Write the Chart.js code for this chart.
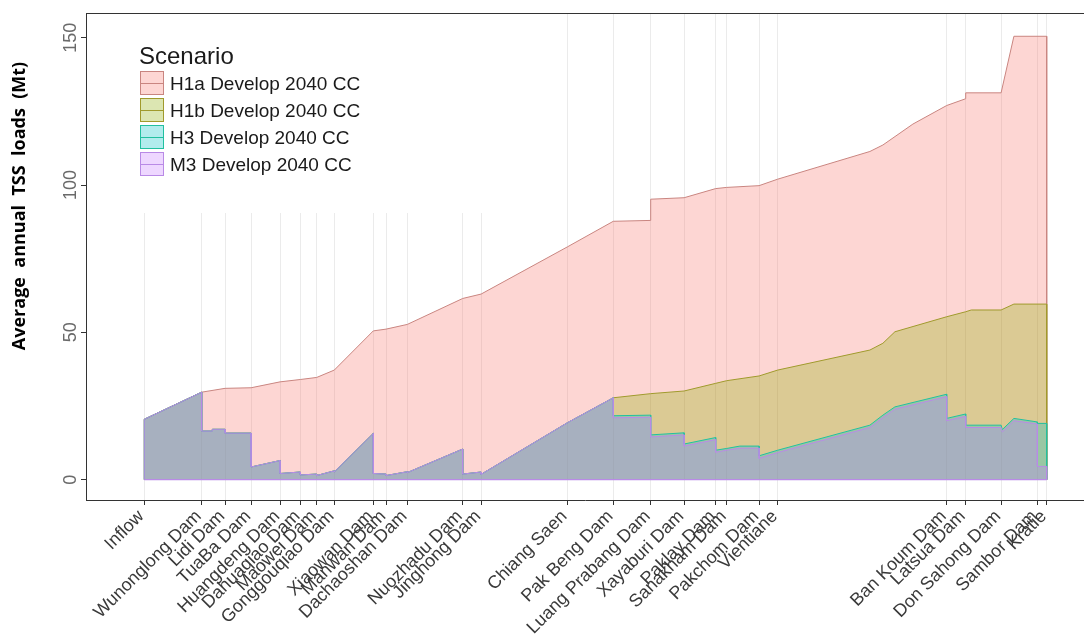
<!DOCTYPE html>
<html>
<head>
<meta charset="utf-8">
<script src="https://cdn.jsdelivr.net/npm/chart.js@4.4.1/dist/chart.umd.min.js"></script>
<style>
  html, body { margin: 0; padding: 0; background: #fff; }
  canvas { display: block; }
</style>
</head>
<body>
<canvas id="chart" width="1084" height="636"></canvas>
<script>
// Stations along the Lancang-Mekong, with distance downstream of the inflow point (km)
const stations = ['Inflow', 'Wunonglong Dam', 'Lidi Dam', 'TuaBa Dam', 'Huangdeng Dam', 'Dahuaqiao Dam',
  'Maowei Dam', 'Gonggouqiao Dam', 'Xiaowan Dam', 'Manwan Dam', 'Dachaoshan Dam', 'Nuozhadu Dam',
  'Jinghong Dam', 'Chiang Saen', 'Pak Beng Dam', 'Luang Prabang Dam', 'Xayaburi Dam', 'Paklay Dam',
  'Sanakham Dam', 'Pakchom Dam', 'Vientiane', 'Ban Koum Dam', 'Latsua Dam', 'Don Sahong Dam',
  'Sambor Dam', 'Kratie'];
const stationKm = [0, 287, 404, 534, 679, 780, 862, 950, 1145, 1209, 1315, 1592, 1684, 2115, 2345,
  2532, 2699, 2857, 2912, 3074, 3167, 4012, 4107, 4284, 4465, 4512];

const yTicks = [0, 50, 100, 150];

const scenarios = ['H1a Develop 2040 CC', 'H1b Develop 2040 CC', 'H3 Develop 2040 CC', 'M3 Develop 2040 CC'];

// Average annual TSS load [km, Mt]; a repeated km is the step at a dam or tributary
const h1aLoad = [[0, 20.5], [287, 29.7], [404, 31], [534, 31.2], [679, 33.2], [780, 34], [862, 34.7],
  [950, 37.2], [1145, 50.5], [1209, 51.1], [1315, 52.7], [1592, 61.5], [1684, 63], [2115, 79],
  [2345, 87.7], [2532, 88], [2532, 95.2], [2699, 95.7], [2857, 98.8], [2912, 99.2], [3074, 99.8],
  [3167, 102], [3628, 111.4], [3693, 113.6], [3843, 120.7], [4012, 127], [4107, 129.3],
  [4107, 131.3], [4284, 131.3], [4348, 150.5], [4512, 150.5]];

// Lancang cascade, common to H1b, H3 and M3 down to Pak Beng
const upperCascade = [[0, 20.5], [287, 29.7], [287, 16.5], [340, 16.5], [340, 17.1], [404, 17.1],
  [404, 15.8], [534, 15.8], [534, 4.3], [679, 6.5], [679, 2.1], [780, 2.6], [780, 1.6], [862, 1.9],
  [862, 1.4], [950, 3.0], [950, 2.6], [1145, 15.7], [1145, 2.1], [1209, 1.9], [1209, 1.4],
  [1315, 2.7], [1315, 2.4], [1592, 10.4], [1592, 1.9], [1684, 2.6], [1684, 1.8], [2115, 19.3],
  [2345, 27.8]];

const h1bLower = [[2532, 29.2], [2699, 30.1], [2857, 32.7], [2912, 33.6], [3074, 35.2], [3167, 37.2],
  [3628, 44], [3693, 46.3], [3753, 50.2], [4012, 55.3], [4107, 57], [4135, 57.6], [4284, 57.6],
  [4348, 59.6], [4512, 59.6]];

const h3Lower = [[2345, 21.7], [2532, 21.9], [2532, 15.2], [2699, 15.9], [2699, 12.1], [2857, 14.3],
  [2857, 10.0], [2912, 10.6], [2978, 11.4], [3074, 11.4], [3074, 8.1], [3167, 10.0], [3628, 18.5],
  [3693, 21.9], [3753, 24.7], [4012, 29.0], [4012, 20.8], [4107, 22.3], [4107, 18.5], [4284, 18.5],
  [4290, 17.0], [4348, 20.8], [4465, 19.6], [4465, 19.1], [4512, 19.1]];

const m3Lower = [[2345, 21.0], [2532, 21.2], [2532, 14.5], [2699, 15.2], [2699, 11.4], [2857, 13.6],
  [2857, 9.3], [2912, 10.0], [2978, 10.7], [3074, 10.7], [3074, 7.2], [3167, 9.2], [3628, 17.7],
  [3693, 21.1], [3753, 23.9], [4012, 28.2], [4012, 20.0], [4107, 21.5], [4107, 17.7], [4284, 17.7],
  [4290, 16.2], [4348, 20.0], [4465, 18.9], [4465, 4.5], [4512, 4.5]];

const seriesPoints = [
  h1aLoad,
  upperCascade.concat(h1bLower),
  upperCascade.concat(h3Lower),
  upperCascade.concat(m3Lower)
];

const fillColors = ['rgba(248,118,109,0.3)', 'rgba(140,172,0,0.3)', 'rgba(0,191,196,0.3)', 'rgba(199,124,255,0.3)'];
const lineColors = ['#c98580', '#a09a2c', '#22c0a0', '#b98ae6'];

// close each area down to zero at both ends so its outline runs round the whole shape
function closedArea(pts) {
  const first = pts[0][0], last = pts[pts.length - 1][0];
  return [{ x: first, y: 0 }].concat(pts.map(p => ({ x: p[0], y: p[1] })), [{ x: last, y: 0 }]);
}

const datasets = seriesPoints.map((pts, i) => ({
  label: scenarios[i],
  data: closedArea(pts),
  backgroundColor: fillColors[i],
  borderColor: lineColors[i],
  borderWidth: 1,
  pointRadius: 0,
  tension: 0,
  fill: { value: 0 },
  order: 4 - i
}));
datasets.push({
  label: 'baseline',
  data: [{ x: stationKm[0], y: 0 }, { x: stationKm[stationKm.length - 1], y: 0 }],
  borderColor: lineColors[3],
  borderWidth: 1.2,
  pointRadius: 0,
  fill: false,
  order: 0
});

const sans = '"Liberation Sans", Arial, Helvetica, sans-serif';

const decorations = {
  id: 'decorations',
  beforeDatasetsDraw(chart) {
    const { ctx, chartArea } = chart;
    // legend background
    ctx.save();
    ctx.fillStyle = '#ffffff';
    ctx.fillRect(chartArea.left + 1, chartArea.top + 1, 414, 199);
    ctx.restore();
  },
  afterDraw(chart) {
    const { ctx, chartArea, scales } = chart;
    ctx.save();
    // top edge of the panel
    ctx.strokeStyle = '#333';
    ctx.lineWidth = 1;
    ctx.beginPath();
    ctx.moveTo(chartArea.left, chartArea.top + 0.5);
    ctx.lineTo(chartArea.right, chartArea.top + 0.5);
    ctx.stroke();

    // vertical y tick labels
    ctx.fillStyle = '#6a6a6a';
    ctx.font = '18px ' + sans;
    ctx.textAlign = 'center';
    ctx.textBaseline = 'middle';
    scales.y.ticks.forEach(t => {
      const y = scales.y.getPixelForValue(t.value);
      ctx.save();
      ctx.translate(70, y);
      ctx.rotate(-Math.PI / 2);
      ctx.fillText(String(t.value), 0, 1);
      ctx.restore();
    });

    // y axis title
    ctx.save();
    ctx.fillStyle = '#000';
    ctx.font = 'bold 18px "Open Sans", sans-serif';
    ctx.translate(20, 206);
    ctx.rotate(-Math.PI / 2);
    ctx.fillText('Average  annual  TSS  loads  (Mt)', 0, 0);
    ctx.restore();

    // legend
    ctx.textAlign = 'left';
    ctx.textBaseline = 'alphabetic';
    ctx.fillStyle = '#1a1a1a';
    ctx.font = '24px ' + sans;
    ctx.fillText('Scenario', 139, 64);
    ctx.font = '19px ' + sans;
    scenarios.forEach((name, i) => {
      const x = 140, y = 71 + i * 27, s = 24;
      ctx.fillStyle = fillColors[i];
      ctx.fillRect(x, y, s, s);
      ctx.strokeStyle = lineColors[i];
      ctx.lineWidth = 1;
      ctx.strokeRect(x + 0.5, y + 0.5, s - 1, s - 1);
      ctx.beginPath();
      ctx.moveTo(x, y + s / 2 + 0.5);
      ctx.lineTo(x + s, y + s / 2 + 0.5);
      ctx.stroke();
      ctx.fillStyle = '#1a1a1a';
      ctx.fillText(name, 170, y + s / 2 + 7);
    });
    ctx.restore();
  }
};

new Chart(document.getElementById('chart'), {
  type: 'line',
  data: { datasets },
  options: {
    responsive: false,
    animation: false,
    devicePixelRatio: 1,
    layout: { padding: { top: 13, right: 0, bottom: 0, left: 0 } },
    plugins: { legend: { display: false }, tooltip: { enabled: false } },
    elements: { line: { tension: 0 } },
    scales: {
      x: {
        type: 'linear',
        min: -291.5,
        max: 4698.5,
        afterBuildTicks: scale => { scale.ticks = stationKm.map(v => ({ value: v })); },
        afterFit: scale => { scale.height = 136; },
        ticks: {
          autoSkip: false,
          minRotation: 45,
          maxRotation: 45,
          color: '#3a3a3a',
          font: { family: sans, size: 18 },
          padding: 1,
          labelOffset: -3,
          callback: (value, index) => stations[index]
        },
        grid: { color: '#ebebeb', lineWidth: 1, tickLength: 5, tickColor: '#333' },
        border: { display: true, color: '#333', width: 1 }
      },
      y: {
        type: 'linear',
        min: -6.9,
        max: 158.4,
        afterBuildTicks: scale => { scale.ticks = yTicks.map(v => ({ value: v })); },
        afterFit: scale => { scale.width = 86; },
        ticks: { display: false },
        grid: { drawOnChartArea: false, tickLength: 5, tickColor: '#333' },
        border: { display: true, color: '#333', width: 1 }
      }
    }
  },
  plugins: [decorations]
});
</script>
</body>
</html>
